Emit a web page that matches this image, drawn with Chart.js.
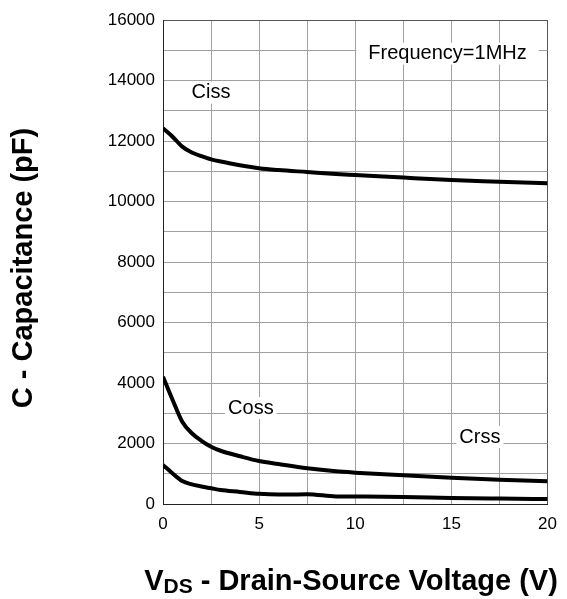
<!DOCTYPE html>
<html>
<head>
<meta charset="utf-8">
<script src="https://cdn.jsdelivr.net/npm/chart.js@4.4.0/dist/chart.umd.min.js"></script>
<style>
  html, body { margin: 0; padding: 0; background: #fff; }
  #wrap { width: 567px; height: 599px; }
</style>
</head>
<body>
<div id="wrap"><canvas id="capChart" width="567" height="599"></canvas></div>
<script>
// drain-source voltage (V)
const vds = [0, 0.5, 1, 1.5, 2, 2.5, 3, 4, 5, 6, 7.5, 9, 10, 12.5, 15, 17.5, 20];
// capacitances (pF)
const ciss = [12420, 12140, 11815, 11620, 11500, 11395, 11320, 11200, 11100, 11040, 10975, 10910, 10876, 10790, 10710, 10655, 10600];
const coss = [4210, 3440, 2720, 2340, 2090, 1895, 1760, 1580, 1420, 1320, 1180, 1080, 1036, 948, 871, 805, 750];
const crss = [1290, 1010, 760, 650, 580, 520, 460, 400, 335, 310, 325, 250, 245, 235, 200, 180, 165];

const xTicks = [0, 5, 10, 15, 20];
const yTicks = [0, 2000, 4000, 6000, 8000, 10000, 12000, 14000, 16000];

// curve labels: [text, V, pF]
const curveLabels = [
  ["Ciss", 2.5, 13600],
  ["Coss", 4.57, 3170],
  ["Crss", 16.48, 2215],
  ["Frequency=1MHz", 14.8, 14890]
];

const FONT = "'Liberation Sans', Arial, Helvetica, sans-serif";

function toPoints(ys) {
  return vds.map((v, i) => ({ x: v, y: ys[i] }));
}

function curve(label, ys) {
  return {
    label: label,
    data: toPoints(ys),
    borderColor: "#000",
    borderWidth: 4,
    pointRadius: 0,
    fill: false,
    cubicInterpolationMode: "monotone"
  };
}

/* ---------- labels + axis titles ---------- */
const textPlugin = {
  id: "textPlugin",
  beforeDatasetsDraw(chart) {
    const ctx = chart.ctx;
    const xs = chart.scales.x;
    const ys = chart.scales.y;
    ctx.save();
    ctx.font = "20px " + FONT;
    ctx.textAlign = "center";
    ctx.textBaseline = "middle";
    curveLabels.forEach(([txt, v, c]) => {
      const px = xs.getPixelForValue(v);
      const py = ys.getPixelForValue(c);
      const w = ctx.measureText(txt).width;
      const pad = txt.length > 6 ? 12 : 3;
      ctx.fillStyle = "#fff";
      ctx.fillRect(px - w / 2 - pad, py - 11, w + pad * 2, 22);
      ctx.fillStyle = "#000";
      ctx.fillText(txt, px, py);
    });
    ctx.restore();
  },
  afterDraw(chart) {
    const ctx = chart.ctx;
    ctx.save();
    ctx.fillStyle = "#000";

    // y title
    ctx.translate(32, 268);
    ctx.rotate(-Math.PI / 2);
    ctx.font = "bold 29px " + FONT;
    ctx.textAlign = "center";
    ctx.textBaseline = "alphabetic";
    ctx.fillText("C - Capacitance (pF)", 0, 0);
    ctx.setTransform(1, 0, 0, 1, 0, 0);

    // x title with subscript
    const big = "bold 29px " + FONT;
    const small = "bold 21px " + FONT;
    const partA = "V", partB = "DS", partC = " - Drain-Source Voltage (V)";
    ctx.font = big;
    const wA = ctx.measureText(partA).width;
    const wC = ctx.measureText(partC).width;
    ctx.font = small;
    const wB = ctx.measureText(partB).width;
    let x = 351 - (wA + wB + wC) / 2;
    const base = 590;
    ctx.textAlign = "left";
    ctx.font = big;
    ctx.fillText(partA, x, base);
    x += wA;
    ctx.font = small;
    ctx.fillText(partB, x, base + 3);
    x += wB;
    ctx.font = big;
    ctx.fillText(partC, x, base);
    ctx.restore();
  }
};

new Chart(document.getElementById("capChart"), {
  type: "line",
  data: {
    datasets: [curve("Ciss", ciss), curve("Coss", coss), curve("Crss", crss)]
  },
  options: {
    responsive: false,
    animation: false,
    layout: { padding: { top: 20, right: 12, left: 0, bottom: 0 } },
    plugins: { legend: { display: false }, tooltip: { enabled: false } },
    scales: {
      x: {
        type: "linear",
        min: 0,
        max: 20,
        afterFit(scale) { scale.height = 95; },
        border: { display: true, color: "#222", width: 1 },
        grid: {
          color: (c) => (c.tick && (c.tick.value === 20) ? "#555" : "#a0a0a0"),
          lineWidth: 1,
          tickLength: 0
        },
        ticks: {
          stepSize: 2.5,
          autoSkip: false,
          maxRotation: 0,
          padding: 10,
          color: "#000",
          font: { family: FONT, size: 17 },
          callback: (v) => (xTicks.includes(v) ? String(v) : "")
        }
      },
      y: {
        min: 0,
        max: 16000,
        afterFit(scale) { scale.width = 163; },
        border: { display: true, color: "#222", width: 1 },
        grid: {
          color: (c) => (c.tick && (c.tick.value === 16000) ? "#555" : "#a0a0a0"),
          lineWidth: 1,
          tickLength: 0
        },
        ticks: {
          stepSize: 1000,
          autoSkip: false,
          padding: 8,
          color: "#000",
          font: { family: FONT, size: 17 },
          callback: (v) => (yTicks.includes(v) ? String(v) : "")
        }
      }
    }
  },
  plugins: [textPlugin]
});
</script>
</body>
</html>
